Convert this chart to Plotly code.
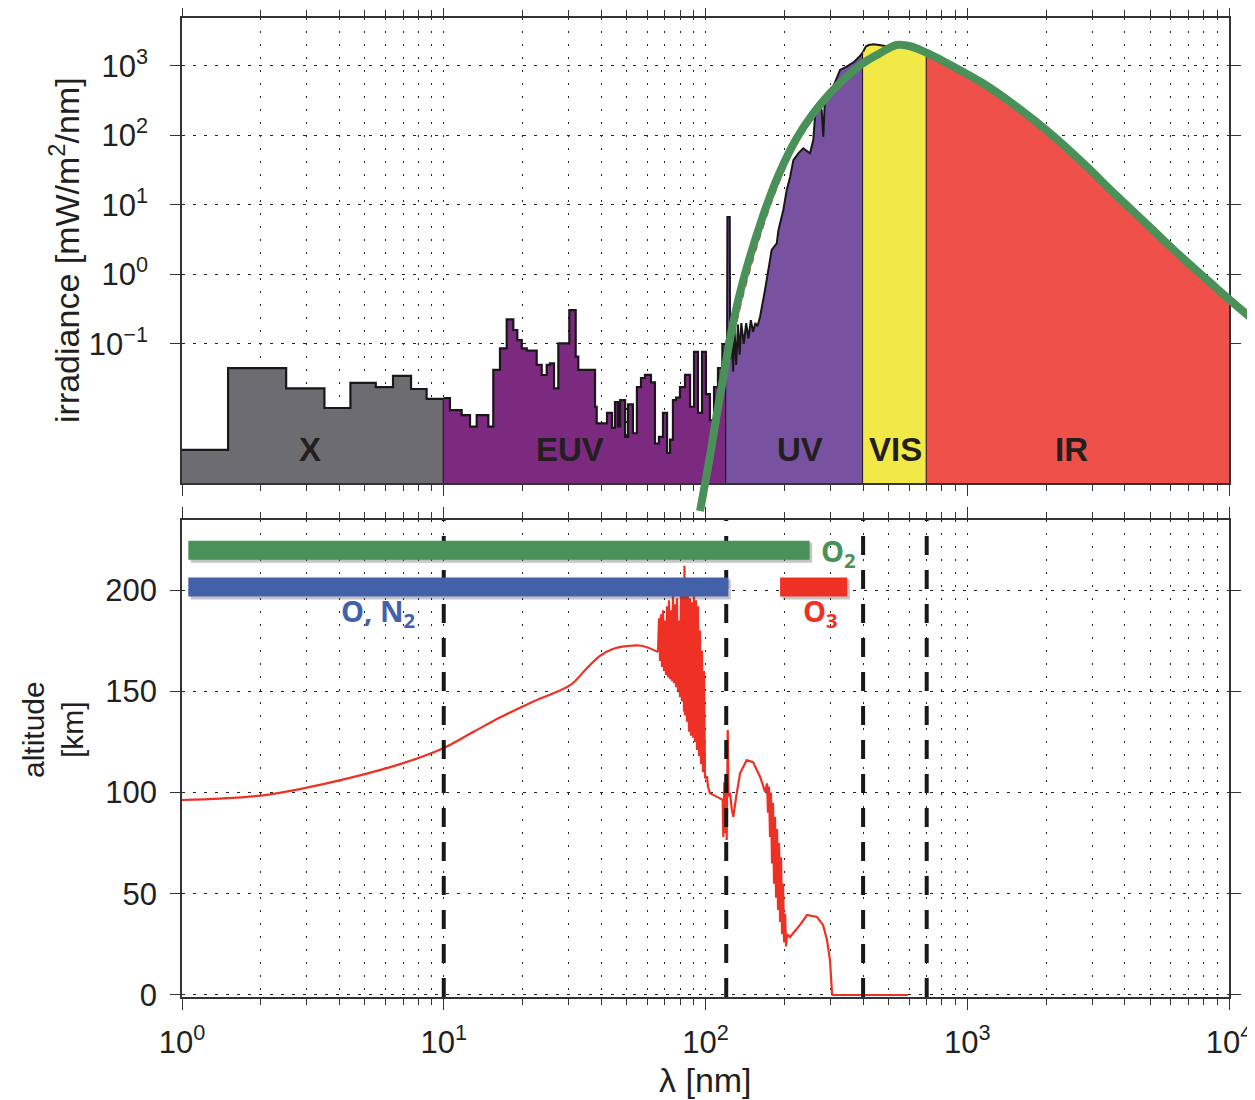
import math
import plotly.graph_objects as go

# ---------------- data ----------------
# X-ray band: step bins, edges in nm, irradiance in mW/m^2/nm
X_EDGES = [1.0, 1.5, 2.5, 3.5, 4.4, 5.5, 6.4, 7.5, 8.6, 10.0]
X_IRR = [0.003, 0.045, 0.023, 0.012, 0.0275, 0.024, 0.0347, 0.0225, 0.0162]

# EUV band: step bins
EUV_EDGES = [10.0, 10.56, 11.71, 12.6, 13.36, 14.8, 15.46, 16.4, 17.4, 18.44, 19.1, 19.86,
             20.75, 22.65, 23.67, 24.74, 25.47, 26.38, 27.4, 30.18, 31.92, 32.66, 37.84,
             38.4, 42.05, 43.93, 45.1, 46.3, 47.2, 49.3, 50.6, 52.8, 54.7, 56.7, 58.7, 61.9,
             64.1, 66.4, 68.8, 71.3, 73.2, 75.1, 77.2, 79.9, 83.5, 87.3, 90.4, 93.6, 97.0,
             100.4, 104.0, 107.8, 111.6, 116.0, 120.0]
EUV_IRR = [0.0166, 0.0112, 0.0095, 0.00646, 0.0095, 0.00646, 0.0423, 0.0867, 0.2265, 0.159,
           0.114, 0.0867, 0.080, 0.0499, 0.0358, 0.0499, 0.0527, 0.023, 0.102, 0.308, 0.0658,
           0.0423, 0.0125, 0.0072, 0.0102, 0.0062, 0.0146, 0.0065, 0.0156, 0.0046, 0.0135,
           0.0052, 0.024, 0.0324, 0.036, 0.028, 0.0037, 0.0046, 0.0102, 0.0027, 0.0042,
           0.0156, 0.017, 0.024, 0.036, 0.0125, 0.077, 0.0102, 0.077, 0.019, 0.008, 0.024,
           0.045, 0.1]

# UV band
UV_WL = [120.0, 120.9, 121.2, 123.8, 124.2, 126, 127.5, 129, 131, 133, 135, 137, 140, 143,
         146, 149, 152, 155, 158, 161.6, 168.8, 173.8, 179, 187.1, 190, 198.3, 204.3, 210.6,
         216.6, 226.2, 236.4, 250.7, 258.1, 262, 269.8, 277.9, 281.9, 286.1, 294.5, 307.7,
         326.6, 346.3, 370, 390, 400]
UV_IRR = [0.1, 0.12, 6.7, 6.7, 0.06, 0.15, 0.04, 0.17, 0.05, 0.19, 0.07, 0.2, 0.1, 0.2,
          0.12, 0.22, 0.15, 0.2, 0.18, 0.247, 0.598, 1.16, 2.25, 2.81, 4.37, 8.47, 16.4, 25.5,
          44.3, 55.4, 65.5, 55.4, 86, 186, 259, 233, 96, 362, 405, 504, 876, 976, 1150,
          1400, 1600]

# visible band
VIS_WL = [400, 405, 410, 420, 440, 460, 480, 500, 530, 560, 600, 650, 700]
VIS_IRR = [1600, 1750, 1900, 2000, 2050, 2000, 1950, 1900, 1950, 1900, 1850, 1700, 1520]

# infrared band
IR_WL = [700, 859, 1148, 1545, 2070, 2775, 3720, 4990, 6670, 8975, 10000]
IR_IRR = [1520, 1043, 564, 259, 108, 39.8, 13.6, 4.78, 1.71, 0.631, 0.45]

# black-body curve (green)
BB_WL = [95.3, 104.0, 110.7, 118.0, 125.9, 139.5, 166.3, 192.6, 223.0, 258.0, 299.0, 346.0,
         400.0, 464.0, 500.0, 536.0, 600.0, 650.0, 702.0, 859.0, 1148.0, 1545.0, 2070.0,
         2775.0, 3720.0, 4990.0, 6670.0, 8975.0, 10090.0, 12360.0]
BB_IRR = [3.95e-4, 2.44e-3, 0.0102, 0.0395, 0.159, 0.834, 7.18, 30.2, 91.5, 208.0, 405.0,
          701.0, 1093.0, 1523.0, 1787.0, 2005.0, 1940.0, 1758.0, 1538.0, 1043.0, 564.0,
          259.0, 108.0, 39.8, 13.6, 4.78, 1.71, 0.631, 0.428, 0.224]

# reference curve (red dashed, mostly hidden below the green one)
REF_WL = [100, 110.7, 118, 125.9, 139.5, 166.3, 192.6, 223, 258, 299, 346, 400, 464, 536,
          702, 859, 1148, 1545, 2070, 2775, 3720, 4990, 6670, 8975, 10000]
REF_IRR = [6e-4, 0.006, 0.025, 0.1, 0.55, 5.2, 24, 78, 185, 390, 690, 1090, 1530, 2000,
           1560, 1090, 595, 274, 115, 42.5, 14.5, 5.0, 1.8, 0.67, 0.48]

# penetration altitude (bottom panel), km; the first ALT_SMOOTH_N points are the smooth part
ALT_SMOOTH_N = 17
ALT_WL = [1.0, 1.4, 2.0, 2.82, 4.38, 6.81, 10.0, 13.0, 16.4, 22.0, 30.4, 35.0, 39.5,
          44.0, 50.0, 57.0, 65.86,
          66.44, 67.04, 67.61, 68.21, 68.81, 69.42, 70.03, 70.66, 71.28, 71.91, 72.54, 73.19,
          73.84, 74.47, 75.13, 75.79, 76.47, 77.14, 77.82, 78.50, 79.21, 79.90, 80.61, 81.32,
          82.04, 82.76, 83.10, 83.51, 84.24, 84.98, 85.73, 86.50, 87.26, 88.03, 88.80, 89.58,
          90.39, 91.18, 91.98, 92.79, 93.60, 94.46, 95.28, 96.12, 96.96, 97.81, 98.70, 99.56,
          101.32, 102.21, 104.04, 113.6, 116.3,
          117.0, 118.0, 119.0, 120.0, 120.5, 121.6, 122.5, 124.1, 125.9, 127.7, 131.0, 135.5,
          143.7, 151.9, 161.6, 168.8, 171.8,
          173.3, 174.8, 176.4, 177.9, 179.5, 181.1, 182.7, 184.3, 186.0, 187.6, 189.3, 191.0,
          192.7, 194.4, 196.1, 197.8, 199.6, 201.4, 203.2, 205.0,
          210.3, 229.6, 244.3, 266.7, 281.2, 291.2, 299.0, 304.3, 306.0, 594.0]
ALT_KM = [96.3, 97.0, 98.5, 101.7, 107.2, 114.0, 122.0, 130.0, 137.0, 145.0, 153.0, 161.0,
          167.5, 170.8, 172.3, 172.5, 169.4,
          186, 165, 188, 162, 190, 160, 185, 158, 192, 157, 195, 156, 190, 155, 198, 154, 193,
          152, 196, 150, 185, 147, 200, 145, 205, 140, 212, 138, 200, 135, 198, 130, 196, 128,
          194, 127, 197, 125, 195, 121, 192, 118, 180, 114, 170, 110, 160, 107,
          108, 103, 99.6, 97.1, 96.3,
          78, 105, 80, 108, 76.5, 130.9, 98, 100, 92, 88, 98, 109.5, 116, 115, 107.8, 100.4,
          104.5,
          90, 103, 78, 100, 65, 95, 55, 88, 48, 82, 42, 75, 36, 68, 30, 55, 26, 40, 24, 30,
          28.6, 34.6, 39.5, 38.5, 34.6, 27.2, 17.0, 1.0, 0.0, 0.0]

# absorber bars (bottom panel)
BAR_START = [1.057, 1.057, 192.7]
BAR_END = [250.0, 122.2, 348.0]
BAR_ALT = [219.6, 201.5, 201.5]
BAR_COLORS = ["#4A9159", "#4360AA", "#EE3124"]
BAR_LABELS = ["<b>O<sub>2</sub></b>", "<b>O, N<sub>2</sub></b>", "<b>O<sub>3</sub></b>"]
BAR_LABEL_WL = [322.0, 5.6, 274.0]
BAR_LABEL_ALT = [218.5, 189.0, 189.0]

# region boundaries and labels
BOUNDARIES = [10, 120, 400, 700]
REGION_LABELS = ["X", "EUV", "UV", "VIS", "IR"]
REGION_LABEL_WL = [3.08, 30.4, 230.0, 530.0, 2500.0]
REGION_LABEL_IRR = 0.003
REGION_COLORS = ["#6D6C71", "#7B2A80", "#7851A1", "#F3E946", "#EF504A"]

X_TICKS = [1, 10, 100, 1000, 10000]
X_TICKTEXT = ["10<sup>0</sup>", "10<sup>1</sup>", "10<sup>2</sup>", "10<sup>3</sup>", "10<sup>4</sup>"]
Y1_TICKS = [0.1, 1, 10, 100, 1000]
Y1_TICKTEXT = ["10<sup>−1</sup>", "10<sup>0</sup>", "10<sup>1</sup>", "10<sup>2</sup>", "10<sup>3</sup>"]
Y2_TICKS = [0, 50, 100, 150, 200]

X_RANGE = [0, 4]           # log10
Y1_RANGE = [-3, 3.69]      # log10
Y2_RANGE = [-1, 234.6]

# ---------------- layout geometry ----------------
# the page has an 8px body margin: the figure is drawn 8px right / 8px down
OFF = 8
W, H = 1255 - OFF, 1100 - OFF
# target screen positions of the frames
S_LEFT, S_RIGHT, S_TOP, S_BOTTOM, S_PAPER_RIGHT = 182, 1229, 18, 997, 1253
ML = S_LEFT - OFF
MT = S_TOP - OFF
MR = W - (S_PAPER_RIGHT - OFF)
MB = H - (S_BOTTOM - OFF)
PW, PH = W - ML - MR, H - MT - MB


def fx(sx):
    return (sx - S_LEFT) / PW


def fy(sy):
    return (S_BOTTOM - sy) / PH


XD = fx(S_RIGHT)
Y1_DOM = [fy(483), 1.0]
Y2_DOM = [0.0, fy(520)]
X3_MAX = X_RANGE[1] / XD
dec_px = (483 - S_TOP) / (Y1_RANGE[1] - Y1_RANGE[0])
Y3_DOM = [fy(520), 1.0]
Y3_MIN = Y1_RANGE[1] - (520 - S_TOP) / dec_px

# pixel scales of the bottom panel (for the soft bar shadows)
X_PX_PER_DEC = (S_RIGHT - S_LEFT) / (X_RANGE[1] - X_RANGE[0])
Y2_PX_PER_KM = (S_BOTTOM - 520) / (Y2_RANGE[1] - Y2_RANGE[0])
SHADOW_PX = 2.5

BASE = 10 ** (Y1_RANGE[0] - 1)
MINOR = [m * 10 ** k for k in range(0, 4) for m in range(2, 10)]

INK = "#231F20"
FONT = "Liberation Sans, Arial, sans-serif"
TICK_FONT = dict(family=FONT, size=31, color=INK)

fig = go.Figure()


def step_polygon(edges, vals):
    xs = list(edges[:-1]) + [edges[-1], edges[-1], edges[0]]
    ys = list(vals) + [vals[-1], BASE, BASE]
    return xs, ys


def line_polygon(wl, irr):
    return list(wl) + [wl[-1], wl[0]], list(irr) + [BASE, BASE]


# X and EUV (step spectra)
for (edges, vals), col in zip([(X_EDGES, X_IRR), (EUV_EDGES, EUV_IRR)], REGION_COLORS[:2]):
    xs, ys = step_polygon(edges, vals)
    fig.add_trace(go.Scatter(x=xs, y=ys, mode="lines", line=dict(color="#1A1718", width=2.2, shape="hv"),
                             fill="toself", fillcolor=col, xaxis="x", yaxis="y", hoverinfo="skip"))

# UV, VIS (outlined), IR (no outline)
for (wl, irr), col, lw in zip([(UV_WL, UV_IRR), (VIS_WL, VIS_IRR), (IR_WL, IR_IRR)],
                              REGION_COLORS[2:], [2.0, 2.0, 0]):
    xs, ys = line_polygon(wl, irr)
    fig.add_trace(go.Scatter(x=xs, y=ys, mode="lines",
                             line=dict(color="#1A1718" if lw else col, width=lw if lw else 0.5),
                             fill="toself", fillcolor=col, xaxis="x", yaxis="y", hoverinfo="skip"))

# red dashed reference curve
fig.add_trace(go.Scatter(x=REF_WL, y=REF_IRR, mode="lines", xaxis="x", yaxis="y",
                         line=dict(color="#EE3124", width=2.5, dash="6px,6px", shape="spline"),
                         hoverinfo="skip"))

# ----- bottom panel -----
fig.add_trace(go.Scatter(x=ALT_WL[:ALT_SMOOTH_N], y=ALT_KM[:ALT_SMOOTH_N], mode="lines",
                         xaxis="x2", yaxis="y2", line=dict(color="#EE3124", width=2.2, shape="spline"),
                         hoverinfo="skip"))
fig.add_trace(go.Scatter(x=ALT_WL[ALT_SMOOTH_N - 1:], y=ALT_KM[ALT_SMOOTH_N - 1:], mode="lines",
                         xaxis="x2", yaxis="y2", line=dict(color="#EE3124", width=2.2),
                         hoverinfo="skip"))
for b in BOUNDARIES:
    fig.add_trace(go.Scatter(x=[b, b], y=Y2_RANGE, mode="lines", xaxis="x2", yaxis="y2",
                             line=dict(color="#1A1718", width=4, dash="19px,15px"), hoverinfo="skip"))
xs_fac = 10 ** (SHADOW_PX / X_PX_PER_DEC)
ys_off = SHADOW_PX / Y2_PX_PER_KM
for s, e, a in zip(BAR_START, BAR_END, BAR_ALT):
    fig.add_trace(go.Scatter(x=[s * xs_fac, e * xs_fac], y=[a - ys_off, a - ys_off], mode="lines",
                             xaxis="x2", yaxis="y2", line=dict(color="rgba(60,60,60,0.30)", width=20),
                             hoverinfo="skip"))
for s, e, a, c in zip(BAR_START, BAR_END, BAR_ALT, BAR_COLORS):
    fig.add_trace(go.Scatter(x=[s, e], y=[a, a], mode="lines", xaxis="x2", yaxis="y2",
                             line=dict(color=c, width=19), hoverinfo="skip"))

# green black-body curve on a larger, invisible overlay so it can run past the frame
fig.add_trace(go.Scatter(x=BB_WL, y=BB_IRR, mode="lines", xaxis="x3", yaxis="y3",
                         line=dict(color="#4A9159", width=8, shape="spline", smoothing=1.0),
                         hoverinfo="skip"))

annotations = []
for lab, wl in zip(REGION_LABELS, REGION_LABEL_WL):
    annotations.append(dict(text="<b>%s</b>" % lab, x=math.log10(wl), y=math.log10(REGION_LABEL_IRR),
                            xref="x", yref="y", showarrow=False,
                            font=dict(family=FONT, size=33, color=INK)))
for lab, wl, alt, c in zip(BAR_LABELS, BAR_LABEL_WL, BAR_LABEL_ALT, BAR_COLORS):
    annotations.append(dict(text=lab, x=math.log10(wl), y=alt, xref="x2", yref="y2", showarrow=False,
                            font=dict(family="Open Sans, sans-serif", size=29, color=c)))
annotations.append(dict(text="irradiance [mW/m<sup>2</sup>/nm]", x=fx(64), y=fy(250), xref="paper",
                        yref="paper", showarrow=False, textangle=-90, xanchor="center", yanchor="middle",
                        font=dict(family=FONT, size=34, color=INK)))
annotations.append(dict(text="altitude<br>[km]", x=fx(53), y=fy(730), xref="paper", yref="paper",
                        showarrow=False, textangle=-90, xanchor="center", yanchor="middle",
                        font=dict(family=FONT, size=30, color=INK)))
annotations.append(dict(text="λ [nm]", x=fx(705), y=fy(1080), xref="paper", yref="paper",
                        showarrow=False, xanchor="center", yanchor="middle",
                        font=dict(family=FONT, size=34, color=INK)))

GRID = dict(showgrid=True, gridcolor="#222222", gridwidth=1.3)
AX = dict(showline=True, linecolor="#333333", linewidth=1.5, mirror="ticks", ticks="outside",
          tickcolor="#333333", tickwidth=1.4, zeroline=False, tickfont=TICK_FONT)


def xaxis(anchor, labels):
    d = dict(AX)
    d.update(GRID)
    d.update(type="log", range=X_RANGE, domain=[0, XD], anchor=anchor, tickmode="array",
             tickvals=X_TICKS, ticktext=X_TICKTEXT, showticklabels=labels, ticklen=11,
             griddash="2px,11px",
             minor=dict(tickmode="array", tickvals=MINOR, ticks="outside", ticklen=6,
                        tickcolor="#333333", tickwidth=1.2, showgrid=True, gridcolor="#222222",
                        gridwidth=1.3, griddash="2px,11px"))
    if labels:
        d.update(ticklabelstandoff=6)
    return d


y1 = dict(AX)
y1.update(GRID)
y1.update(type="log", range=Y1_RANGE, domain=Y1_DOM, anchor="x", tickmode="array",
          tickvals=Y1_TICKS, ticktext=Y1_TICKTEXT, ticklen=10, griddash="3px,8px",
          ticklabelstandoff=16)
y2 = dict(AX)
y2.update(GRID)
y2.update(range=Y2_RANGE, domain=Y2_DOM, anchor="x2", tickmode="array", tickvals=Y2_TICKS,
          ticklen=10, griddash="3px,8px", ticklabelstandoff=7)

fig.update_layout(
    width=W, height=H,
    margin=dict(l=ML, r=MR, t=MT, b=MB, autoexpand=False),
    paper_bgcolor="white", plot_bgcolor="rgba(0,0,0,0)",
    showlegend=False,
    xaxis=xaxis("y", False),
    yaxis=y1,
    xaxis2=xaxis("y2", True),
    yaxis2=y2,
    xaxis3=dict(type="log", range=[0, X3_MAX], domain=[0, 1], anchor="y3", visible=False),
    yaxis3=dict(type="log", range=[Y3_MIN, Y1_RANGE[1]], domain=Y3_DOM, anchor="x3", visible=False),
    annotations=annotations,
)

fig.write_html("out.html")
